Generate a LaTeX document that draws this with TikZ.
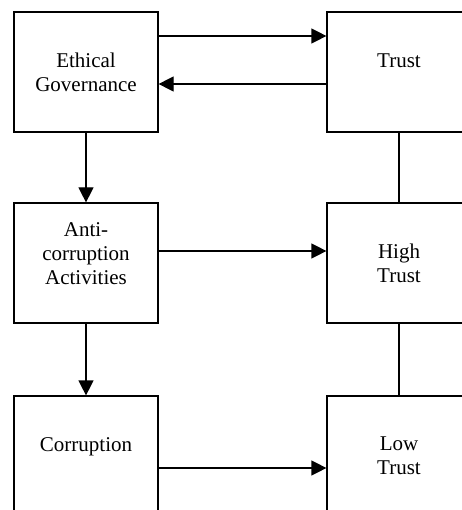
\documentclass[tikz,border=0pt]{standalone}
\usepackage{fontspec}
\setmainfont{Liberation Serif}
\usetikzlibrary{arrows.meta, positioning}

\begin{document}
\begin{tikzpicture}[x=1pt, y=-1pt, on grid, line width=1.2pt,
    box/.style={draw, rectangle, minimum width=144pt, minimum height=120pt,
      align=center, inner sep=0pt, font=\fontsize{21}{24}\selectfont},
    link/.style={-{Triangle[length=15pt,width=15pt]}}]
    \useasboundingbox (0,0) rectangle (461,510);
    \node[box] (eg) at (86,72) {Ethical\\Governance};
    \node[box] (trust) [right=313pt of eg] {Trust\\[-8pt]\strut};
    \node[box] (anti) [below=191pt of eg] {Anti-\\corruption\\Activities\\[-12pt]\strut};
    \node[box] (high) [right=313pt of anti] {High\\Trust};
    \node[box] (corr) [below=193pt of anti] {Corruption\\[-8pt]\strut};
    \node[box] (low) [right=313pt of corr] {Low\\Trust};
    \draw[link] ([yshift=36pt]eg.east) -- ([yshift=36pt]trust.west);
    \draw[link] ([yshift=-12pt]trust.west) -- ([yshift=-12pt]eg.east);
    \draw[link] ([yshift=12pt]anti.east) -- ([yshift=12pt]high.west);
    \draw[link] ([yshift=-12pt]corr.east) -- ([yshift=-12pt]low.west);
    \draw[link] (eg) -- (anti);
    \draw[link] (anti) -- (corr);
    \draw (trust) -- (high);
    \draw (high) -- (low);
\end{tikzpicture}
\end{document}
